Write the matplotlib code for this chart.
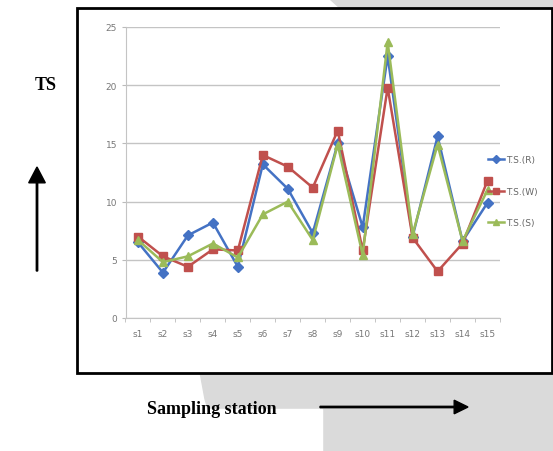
import matplotlib
matplotlib.use("Agg")
import matplotlib.pyplot as plt
from matplotlib.patches import Polygon, Rectangle
from matplotlib.lines import Line2D

stations = ["s1", "s2", "s3", "s4", "s5", "s6", "s7", "s8", "s9", "s10",
            "s11", "s12", "s13", "s14", "s15"]
ts_r = [6.5, 3.9, 7.1, 8.2, 4.4, 13.2, 11.1, 7.3, 15.0, 7.8, 22.5, 7.0, 15.6, 6.6, 9.9]
ts_w = [7.0, 5.3, 4.4, 5.9, 5.8, 14.0, 13.0, 11.2, 16.1, 5.8, 19.8, 6.9, 4.0, 6.4, 11.8]
ts_s = [6.7, 4.8, 5.3, 6.4, 5.2, 8.9, 10.0, 6.7, 14.9, 5.4, 23.7, 7.2, 14.9, 6.6, 11.0]
series_labels = ["T.S.(R)", "T.S.(W)", "T.S.(S)"]
y_ticks = [0, 5, 10, 15, 20, 25]

W, H = 553, 452
fig = plt.figure(figsize=(W / 100, H / 100), dpi=100)
fig.patch.set_facecolor("white")

def fx(x):
    return x / W

def fy(y):
    return 1 - y / H

# watermark-like gray background shapes
bg = "#dadada"
fig.patches.append(Polygon([(fx(200), fy(373)), (fx(553), fy(373)), (fx(553), fy(452)),
                            (fx(220), fy(452)), (fx(205), fy(400))],
                           closed=True, transform=fig.transFigure, color=bg, zorder=0))
fig.patches.append(Rectangle((fx(0), fy(452)), fx(322), fy(410) - fy(452),
                             transform=fig.transFigure, color="white", zorder=0.5))
fig.patches.append(Polygon([(fx(330), fy(0)), (fx(553), fy(0)), (fx(553), fy(9)), (fx(340), fy(9))],
                           closed=True, transform=fig.transFigure, color=bg, zorder=0))

# black frame around chart
fig.patches.append(Rectangle((fx(76.5), fy(373.5)), fx(552) - fx(76.5), fy(9) - fy(373.5),
                             transform=fig.transFigure, fill=True, facecolor="white",
                             edgecolor="black", linewidth=2.0, zorder=1))

ax = fig.add_axes([fx(125.5), fy(319), fx(500) - fx(125.5), fy(28) - fy(319)])
ax.set_zorder(2)
ax.patch.set_alpha(0)

x = list(range(len(stations)))
ax.plot(x, ts_r, color="#4472C4", marker="D", markersize=5, linewidth=1.8, label=series_labels[0], zorder=3)
ax.plot(x, ts_w, color="#C0504D", marker="s", markersize=6, linewidth=1.8, label=series_labels[1], zorder=4)
ax.plot(x, ts_s, color="#9BBB59", marker="^", markersize=6, linewidth=1.8, label=series_labels[2], zorder=5)

ax.set_xlim(-0.5, len(stations) - 0.5)
ax.set_ylim(0, 25)
ax.set_yticks(y_ticks)
ax.set_yticklabels([str(v) for v in y_ticks])
ax.set_xticks(x)
ax.set_xticklabels(stations)
ax.set_xticks([i - 0.5 for i in range(len(stations) + 1)], minor=True)
ax.tick_params(axis="x", which="major", length=0, pad=8, labelsize=6.5, labelcolor="#777777")
ax.tick_params(axis="x", which="minor", length=3, color="#bbbbbb", direction="out")
ax.tick_params(axis="y", length=3, color="#bbbbbb", labelsize=6.5, labelcolor="#777777", pad=3)
ax.grid(axis="y", color="#c4c4c4", linewidth=1.0)
ax.set_axisbelow(True)
for s in ["top", "right"]:
    ax.spines[s].set_visible(False)
ax.spines["left"].set_color("#c4c4c4")
ax.spines["bottom"].set_color("#c4c4c4")

handles = [Line2D([0], [0], color="#4472C4", marker="D", markersize=4, linewidth=1.8),
           Line2D([0], [0], color="#C0504D", marker="s", markersize=5, linewidth=1.8),
           Line2D([0], [0], color="#9BBB59", marker="^", markersize=5, linewidth=1.8)]
leg = fig.legend(handles, series_labels, loc="upper left",
                 bbox_to_anchor=(fx(480), fy(148)), frameon=False, fontsize=6.5,
                 handlelength=1.8, handletextpad=0.2, labelspacing=2.5,
                 labelcolor="#666666")
leg.set_zorder(6)

# outer labels
fig.text(fx(46), fy(86), "TS", fontsize=13, fontweight="bold", family="Liberation Serif",
         ha="center", va="center", zorder=3)
fig.patches.append(matplotlib.patches.FancyArrow(fx(37), fy(272), 0, fy(168) - fy(272),
                                                 width=0.0025, head_width=0.03, head_length=0.035,
                                                 length_includes_head=True, color="black",
                                                 transform=fig.transFigure, zorder=3))
fig.text(fx(212), fy(410), "Sampling station", fontsize=13, fontweight="bold",
         family="Liberation Serif", ha="center", va="center", zorder=3)
fig.patches.append(matplotlib.patches.FancyArrow(fx(320), fy(408), fx(468) - fx(320), 0,
                                                 width=0.003, head_width=0.03, head_length=0.025,
                                                 length_includes_head=True, color="black",
                                                 transform=fig.transFigure, zorder=3))

fig.savefig("out.png", dpi=100)
